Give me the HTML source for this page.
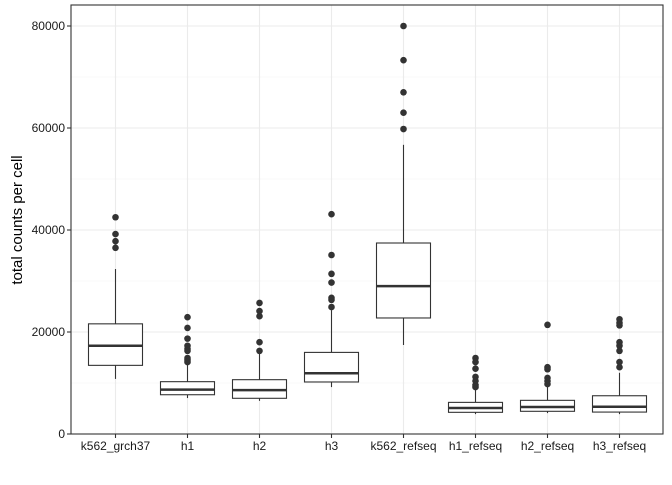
<!DOCTYPE html>
<html><head><meta charset="utf-8"><style>
body{margin:0;background:#fff}
text{font-family:"Liberation Sans",sans-serif}
</style></head><body>
<svg id="chart" width="672" height="480"></svg>
<script>
const categories=["k562_grch37","h1","h2","h3","k562_refseq","h1_refseq","h2_refseq","h3_refseq"];
const q1=[13460,7700,7000,10200,22750,4250,4450,4300];
const medians=[17300,8700,8600,11900,29000,5100,5300,5350];
const q3=[21600,10260,10650,16000,37450,6200,6600,7500];
const whiskerLow=[10800,7050,6500,9200,17450,3900,4100,3900];
const whiskerHigh=[32350,13900,15900,24300,56700,9000,9600,12000];
const outliers=[
 [42500,39200,37800,36500],
 [22900,20800,18700,17300,16700,16300,14900,14500,14100],
 [25700,24100,23100,18000,16300],
 [43100,35100,31400,29700,26700,26300,24900],
 [80000,73300,67000,63000,59800],
 [14900,14100,12800,11200,10400,9600,9200],
 [21400,13100,12700,11000,10400,9800],
 [22500,21800,21300,18000,17300,16300,14100,13100]
];
const yTicks=[0,20000,40000,60000,80000];
const yMinor=[10000,30000,50000,70000];
const yTitle="total counts per cell";

const NS="http://www.w3.org/2000/svg";
const svg=document.getElementById('chart');
const L=71,R=663,T=5,B=434;
const y=v=>B-v*(B-26)/80000;
const x=i=>115.5+i*72;
function el(tag,attrs,parent){const e=document.createElementNS(NS,tag);for(const k in attrs)e.setAttribute(k,attrs[k]);(parent||svg).appendChild(e);return e;}
const grid=el('g',{});


yMinor.forEach(v=>el('line',{x1:L,x2:R,y1:y(v),y2:y(v),stroke:'#f2f2f2','stroke-width':0.6},grid));
yTicks.forEach(v=>el('line',{x1:L,x2:R,y1:y(v),y2:y(v),stroke:'#ebebeb','stroke-width':1.1},grid));
categories.forEach((c,i)=>el('line',{x1:x(i),x2:x(i),y1:T,y2:B,stroke:'#ebebeb','stroke-width':1.1},grid));
const boxW=54;
categories.forEach((c,i)=>{
 const g=el('g',{});
 
 
 const cx=x(i);
 el('line',{x1:cx,x2:cx,y1:y(q3[i]),y2:y(whiskerHigh[i]),stroke:'#333','stroke-width':1.1},g);
 el('line',{x1:cx,x2:cx,y1:y(q1[i]),y2:y(whiskerLow[i]),stroke:'#333','stroke-width':1.1},g);
 el('rect',{x:cx-boxW/2,y:y(q3[i]),width:boxW,height:y(q1[i])-y(q3[i]),fill:'#fff',stroke:'#333','stroke-width':1.1},g);
 el('line',{x1:cx-boxW/2,x2:cx+boxW/2,y1:y(medians[i]),y2:y(medians[i]),stroke:'#333','stroke-width':2.5},g);
 outliers[i].forEach(v=>el('circle',{cx:cx,cy:y(v),r:3.3,fill:'#333'},g));
});
el('rect',{x:L,y:T,width:R-L,height:B-T,fill:'none',stroke:'#333','stroke-width':1.1});
const ax=el('g',{});


yTicks.forEach(v=>{
 el('line',{x1:L-4,x2:L,y1:y(v),y2:y(v),stroke:'#333','stroke-width':1.1},ax);
 const t=el('text',{x:L-6,y:y(v)+4,'text-anchor':'end','font-size':12,fill:'#1a1a1a'},ax);t.textContent=String(v);
});
const xa=el('g',{});


categories.forEach((c,i)=>{
 el('line',{x1:x(i),x2:x(i),y1:B,y2:B+4,stroke:'#333','stroke-width':1.1},xa);
 const t=el('text',{x:x(i),y:450,'text-anchor':'middle','font-size':12,fill:'#1a1a1a'},xa);t.textContent=c;
});
const yt=el('text',{x:0,y:0,transform:'translate(22,220) rotate(-90)','text-anchor':'middle','font-size':15,fill:'#000'});


yt.textContent=yTitle;
</script>
</body></html>
